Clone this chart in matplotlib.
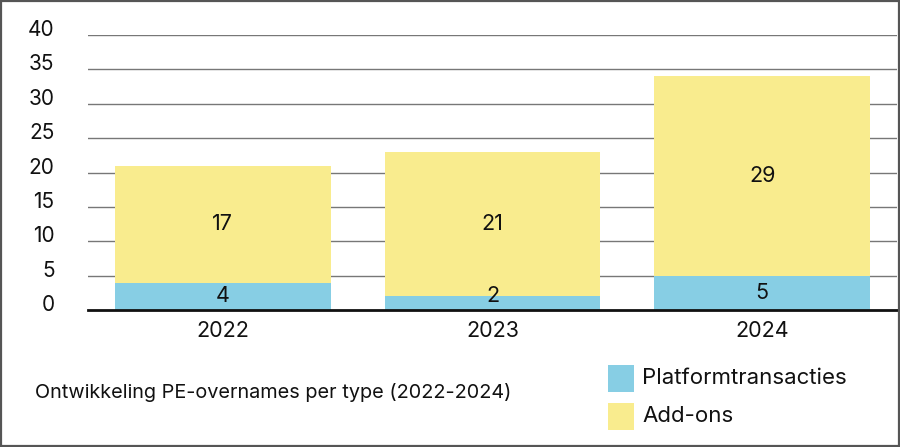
import matplotlib
matplotlib.use("Agg")
import matplotlib.pyplot as plt
from matplotlib.patches import Rectangle
from matplotlib.transforms import ScaledTranslation

plt.rcParams['font.family'] = ['Inter', 'DejaVu Sans']

years = ["2022", "2023", "2024"]
platform = [4, 2, 5]
addons = [17, 21, 29]
series_names = ["Platformtransacties", "Add-ons"]
caption = "Ontwikkeling PE-overnames per type (2022-2024)"
yticks = [0, 5, 10, 15, 20, 25, 30, 35, 40]

c_blue = "#87CEE4"
c_yellow = "#F9EC8E"

W, H = 900, 447
fig = plt.figure(figsize=(9, 4.47), dpi=100)
ax = fig.add_axes([88 / W, 1 - 310 / H, (897 - 88) / W, (310 - 35) / H])

x = list(range(len(years)))
ax.bar(x, platform, width=0.8, color=c_blue, zorder=3)
ax.bar(x, addons, width=0.8, bottom=platform, color=c_yellow, zorder=3)

for i in x:
    ax.text(i, max(platform[i] / 2, 2.1), str(platform[i]), ha="center", va="center",
            fontsize=15.5, color="#111111", zorder=4)
    ax.text(i, platform[i] + addons[i] / 2, str(addons[i]), ha="center", va="center",
            fontsize=15.5, color="#111111", zorder=4)

ax.set_xlim(-0.5, 2.5)
ax.set_ylim(0, 40)
ax.set_yticks(yticks)
ax.set_yticklabels([str(v) for v in yticks], fontsize=15, color="#111111")
ax.set_xticks(x)
ax.set_xticklabels(years, fontsize=15.5, color="#111111")
ax.tick_params(axis="y", length=0, pad=24)
ax.tick_params(axis="x", length=0, pad=8)
shift = ScaledTranslation(0, 7 / 100, fig.dpi_scale_trans)
for lab in ax.get_yticklabels():
    lab.set_transform(lab.get_transform() + shift)
for yv in yticks[1:]:
    ax.axhline(yv, color="#777777", lw=1.0, zorder=1)
ax.axhline(0, color="#111111", lw=2.0, zorder=5, clip_on=False)
for s in ax.spines.values():
    s.set_visible(False)

# caption
fig.text(35 / W, 1 - 393 / H, caption, fontsize=14.3, color="#111111",
         ha="left", va="center")

# legend
leg = [(c_blue, series_names[0], 365, 392), (c_yellow, series_names[1], 403, 430)]
for col, name, y0, y1 in leg:
    fig.patches.append(Rectangle((608 / W, 1 - y1 / H), 26 / W, (y1 - y0) / H,
                                 transform=fig.transFigure, facecolor=col,
                                 edgecolor="none"))
    fig.text(642 / W, 1 - ((y0 + y1) / 2) / H, name, fontsize=16, color="#111111",
             ha="left", va="center")

# figure border
fig.patches.append(Rectangle((0.001, 0.002), 0.998, 0.996, transform=fig.transFigure,
                             facecolor="none", edgecolor="#555555", lw=1.6))

fig.savefig("out.png", dpi=100)
